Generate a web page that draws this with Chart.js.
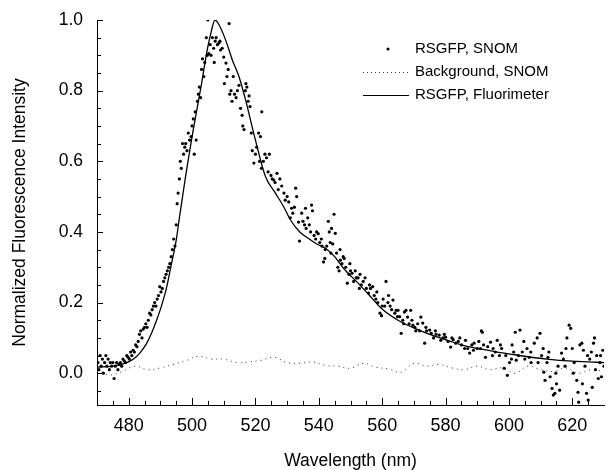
<!DOCTYPE html>
<html>
<head>
<meta charset="utf-8">
<script src="https://cdn.jsdelivr.net/npm/chart.js@4"></script>
<style>
  body { margin: 0; background: #fff; }
  canvas { display: block; }
</style>
</head>
<body>
<canvas id="spectrumChart" width="608" height="470"></canvas>
<script>
// RSGFP, Fluorimeter (solid line)
const fluoX = [470, 475, 479.4, 481.5, 483.5, 485.7, 487.3, 488.8, 490.5, 492, 493.5, 495, 496, 497, 498, 499, 500, 501, 502, 503, 504, 505, 506, 507.2, 508.3, 510.6, 512.7, 514.8, 516.9, 520, 523.2, 526.3, 529, 531.1, 534, 537, 539.5, 542.1, 545, 548, 552.4, 556, 559.7, 565, 570.3, 575, 580.7, 585, 590, 596.3, 600, 605, 612, 620, 627.7, 630];
const fluoY = [0.017, 0.02, 0.03, 0.04, 0.057, 0.085, 0.115, 0.15, 0.195, 0.244, 0.31, 0.377, 0.44, 0.50, 0.56, 0.615, 0.67, 0.72, 0.77, 0.82, 0.875, 0.925, 0.965, 1.0, 0.99, 0.943, 0.887, 0.84, 0.773, 0.66, 0.556, 0.51, 0.47, 0.433, 0.40, 0.38, 0.365, 0.354, 0.33, 0.295, 0.255, 0.22, 0.184, 0.15, 0.127, 0.11, 0.093, 0.08, 0.07, 0.06, 0.055, 0.048, 0.04, 0.034, 0.031, 0.03];

// Background, SNOM (dotted line)
const bgX = [470, 474, 478, 482, 486, 490, 494, 498, 502, 506, 510, 514, 518, 522, 526, 530, 534, 538, 542, 546, 550, 554, 558, 562, 566, 570, 574, 578, 582, 586, 590, 594, 598, 602, 606, 610, 614, 618, 622, 626, 630];
const bgY = [0.01, -0.005, 0.005, 0.02, 0.01, 0.015, 0.025, 0.035, 0.048, 0.04, 0.04, 0.03, 0.032, 0.037, 0.045, 0.03, 0.028, 0.032, 0.022, 0.02, 0.014, 0.028, 0.017, 0.012, 0.003, 0.028, 0.02, 0.025, 0.015, 0.01, 0.02, 0.01, 0.015, 0.0, 0.02, 0.01, 0.005, 0.015, 0.0, 0.01, 0.005];

// RSGFP, SNOM (dots)
const snomX = [470.3, 470.6, 471, 471.3, 471.7, 472, 472.4, 472.8, 473.1, 473.5, 473.9, 474.2, 474.6, 475, 475.4, 475.8, 476.2, 476.6, 477, 477.4, 477.8, 478.2, 478.6, 479, 479.4, 479.8, 480.2, 480.6, 481, 481.4, 481.8, 482.2, 482.6,
  483, 483.4, 483.8, 484.2, 484.6, 485, 485.4, 485.8, 486.2, 486.6, 487, 487.4, 487.8, 488.2, 488.6, 489, 489.4, 489.8, 490.2, 490.6, 491, 491.4, 491.8, 492.2, 492.6, 493, 493.4, 493.8, 494.2, 494.6, 495, 495.3, 495.6, 496, 496.3, 496.6, 497, 497.3, 497.7, 498, 498.4, 498.8, 499.2, 499.7, 500, 500.4, 500.7, 501, 501.3, 501.7, 502, 502.3, 502.7, 503, 503.3, 503.7, 504, 504.5, 504.8, 505, 505.3, 505.7, 506, 506.4, 506.8, 507, 507.3, 507.6, 508, 508.5, 508.8, 509, 509.5, 510, 510.2, 510.7, 511, 511.4, 511.7, 511.9, 512.3, 512.6, 513, 513.4, 513.9, 514.3, 514.8, 515.3, 515.8, 516, 516.4, 516.8, 517, 517.3, 517.7, 518, 518.3, 518.7, 519, 519.5, 520, 520.4, 521, 521.3, 521.6, 521.9, 522, 522.5, 523, 523.5, 524, 524.4, 524.9, 525.3, 525.8, 526.2, 526.8, 527.2, 527.7, 528.3, 529, 529.4, 530, 530.5, 531, 531.4, 531.8, 532.3, 532.7, 533, 533.6, 533.9, 534.6, 535, 535.5, 535.8, 536, 536.5, 537, 537.4, 537.7, 538, 538.5, 539, 539.3, 539.8, 540.3, 540.8, 541.5, 541.9, 542, 542.5, 543, 543.3, 543.6, 544, 544.4, 544.8, 545.2, 545.6, 546, 546.4, 546.8, 547.3, 547.7, 548, 548.5, 549, 549.5, 550, 550.5, 551, 551.5, 552, 552.4, 552.8, 553.4, 554, 554.6, 555, 555.7, 556.3, 557, 557.5, 558, 558.6, 559.3, 559.8, 560.3, 560.8, 561.2, 561.8, 562.5, 563, 563.4, 564, 564.4, 565, 565.5, 566, 566.5, 567, 567.5, 568, 568.5, 569, 569.7, 570.3, 570.6, 571.2, 572.2, 572.8, 573.4, 574, 575, 575.5, 576.2, 577, 578, 578.5, 579.2, 580, 580.8, 581.6, 582.4, 583.2, 584, 585, 586.3, 587, 587.6, 588.3, 589, 590, 591, 591.3, 591.6, 592.6, 593.3, 594.2, 595, 595.7, 596.3, 597, 597.7, 598.5, 599.5, 600.2, 601, 601.5, 602, 602.3, 603, 603.5, 604.2, 605, 605.7, 606.4, 607, 608, 608.9, 609.8, 610.3, 611, 611.4, 612, 612.6, 613, 613.6, 614, 614.5, 615, 615.5, 616, 616.6, 617.2, 618, 618.3, 619, 619.5, 620, 620.6, 621.4, 621.8, 622, 622.4, 623, 623.5, 624, 624.5, 625, 625.5, 626, 626.7, 627, 627.3, 627.7, 628.2, 628.7, 629.2, 629.6, 630,
  541, 543.8, 546.7, 549.8, 551.8, 553, 556, 558.3, 560, 562, 564.8, 566.8, 569.4, 571.8, 573.8, 576.8, 579.6, 582, 584.5, 586, 588.8, 590.5, 592, 594.8, 597.3, 599, 600.8, 604.7, 606.9, 609.2, 610.8, 612.3, 614.8, 617.7, 620.3, 623.2, 624.8, 626.3, 628.9];
const snomY = [0.03, 0.01, 0.05, 0.02, 0.04, 0.0, 0.03, 0.05, 0.02, 0.04, 0.01, 0.03, 0.02, 0.03, -0.015, 0.02, 0.03, 0.01, 0.025, 0.03, 0.02, 0.04, 0.035, 0.03, 0.05, 0.045, 0.04, 0.06, 0.05, 0.065, 0.06, 0.08, 0.075,
  0.09, 0.11, 0.12, 0.10, 0.125, 0.13, 0.14, 0.13, 0.15, 0.17, 0.165, 0.18, 0.19, 0.2, 0.19, 0.21, 0.22, 0.245, 0.23, 0.24, 0.26, 0.27, 0.28, 0.29, 0.3, 0.31, 0.33, 0.35, 0.38, 0.36, 0.42, 0.48, 0.51, 0.55, 0.6, 0.58, 0.65, 0.62, 0.64, 0.65, 0.63, 0.68, 0.66, 0.67, 0.70, 0.72, 0.62, 0.74, 0.66, 0.77, 0.79, 0.81, 0.78, 0.86, 0.89, 0.84, 0.88, 0.95, 0.90, 1.0, 0.905, 0.93, 0.90, 0.95, 0.92, 0.88, 0.94, 0.95, 0.93, 0.935, 0.94, 0.915, 0.92, 0.895, 0.82, 0.878, 0.84, 0.86, 0.99, 0.79, 0.80, 0.77, 0.84, 0.79, 0.78, 0.80, 0.815, 0.75, 0.73, 0.70, 0.69, 0.80, 0.82, 0.81, 0.77, 0.785, 0.755, 0.68, 0.63, 0.595, 0.62, 0.64, 0.68, 0.60, 0.67, 0.58, 0.74, 0.60, 0.62, 0.61, 0.57, 0.62, 0.56, 0.55, 0.547, 0.54, 0.566, 0.52, 0.55, 0.53, 0.51, 0.49, 0.50, 0.485, 0.44, 0.467, 0.453, 0.47, 0.524, 0.50, 0.428, 0.374, 0.453, 0.43, 0.42, 0.467, 0.41, 0.44, 0.42, 0.40, 0.476, 0.46, 0.39, 0.38, 0.40, 0.395, 0.37, 0.38, 0.315, 0.325, 0.35, 0.36, 0.43, 0.40, 0.37, 0.41, 0.366, 0.45, 0.396, 0.34, 0.30, 0.29, 0.32, 0.31, 0.33, 0.325, 0.30, 0.255, 0.28, 0.29, 0.283, 0.26, 0.29, 0.27, 0.27, 0.24, 0.25, 0.26, 0.27, 0.24, 0.227, 0.24, 0.245, 0.22, 0.21, 0.2, 0.17, 0.163, 0.21, 0.19, 0.26, 0.2, 0.19, 0.18, 0.207, 0.17, 0.178, 0.178, 0.16, 0.113, 0.15, 0.173, 0.178, 0.159, 0.14, 0.178, 0.136, 0.13, 0.12, 0.14, 0.159, 0.142, 0.085, 0.12, 0.122, 0.113, 0.1, 0.11, 0.108, 0.093, 0.1, 0.102, 0.09, 0.074, 0.095, 0.085, 0.09, 0.08, 0.093, 0.07, 0.057, 0.08, 0.085, 0.07, 0.07, 0.12, 0.116, 0.045, 0.075, 0.088, 0.07, 0.06, 0.093, 0.05, 0.07, 0.014, -0.006, 0.03, 0.08, 0.06, 0.116, 0.037, 0.05, 0.122, 0.06, 0.04, 0.07, 0.045, 0.03, 0.085, 0.1, 0.113, 0.05, 0.003, -0.02, 0.03, 0.06, -0.01, -0.043, -0.062, -0.057, -0.03, 0.02, -0.048, 0.057, 0.04, 0.07, 0.1, 0.136, 0.127, 0.07, 0.03, -0.02, -0.054, -0.082, 0.08, 0.085, 0.065, 0.02, -0.057, -0.076, 0.04, 0.06, 0.085, 0.1, 0.01, 0.05, -0.015, 0.03, -0.01, 0.065, 0.02,
  0.36, 0.34, 0.35, 0.31, 0.27, 0.28, 0.25, 0.23, 0.19, 0.22, 0.16, 0.14, 0.15, 0.12, 0.13, 0.12, 0.11, 0.1, 0.1, 0.07, 0.065, 0.09, 0.08, 0.05, 0.08, 0.05, 0.04, 0.09, 0.06, 0.03, 0.07, 0.045, 0.0, 0.02, 0.0, -0.03, 0.05, -0.04, 0.05];

// labelled ticks, and the small inward marks between them
const xTicks = [480, 500, 520, 540, 560, 580, 600, 620];
const yTicks = [0.0, 0.2, 0.4, 0.6, 0.8, 1.0];
const xMarks = [475, 480, 485, 490, 495, 500, 505, 510, 515, 520, 525, 530, 535, 540, 545, 550, 555, 560, 565, 570, 575, 580, 585, 590, 595, 600, 605, 610, 615, 620, 625];
const yMarks = [-0.05, 0.0, 0.05, 0.1, 0.15, 0.2, 0.25, 0.3, 0.35, 0.4, 0.45, 0.5, 0.55, 0.6, 0.65, 0.7, 0.75, 0.8, 0.85, 0.9, 0.95, 1.0];
const legendLabels = ["RSGFP, SNOM", "Background, SNOM", "RSGFP, Fluorimeter"];

const FONT = "'Liberation Sans', Arial, sans-serif";

function toPoints(xs, ys) {
    return xs.map((x, i) => ({ x: x, y: ys[i] }));
}

// tick marks pointing into the plot
const inwardTicks = {
    id: "inwardTicks",
    afterDraw(chart) {
        const c = chart.ctx;
        const sx = chart.scales.x, sy = chart.scales.y;
        const a = chart.chartArea;
        c.save();
        c.fillStyle = "#000";
        xMarks.forEach(v => {
            const px = Math.round(sx.getPixelForValue(v));
            const len = xTicks.includes(v) ? 7 : 4;
            c.fillRect(px, Math.round(a.bottom) - len, 1, len);
        });
        yMarks.forEach(v => {
            const py = Math.round(sy.getPixelForValue(v));
            const len = yTicks.some(t => Math.abs(t - v) < 1e-6) ? 6 : 4;
            c.fillRect(Math.round(a.left), py, len, 1);
        });
        c.restore();
    }
};

// legend in the upper right, as in the figure
const plotLegend = {
    id: "plotLegend",
    afterDraw(chart) {
        const c = chart.ctx;
        c.save();
        c.font = "15px " + FONT;
        c.fillStyle = "#000";
        c.textBaseline = "middle";
        const textX = 415;
        const rows = [49, 72, 95];

        c.beginPath();
        c.arc(388, rows[0], 1.5, 0, Math.PI * 2);
        c.fill();

        c.strokeStyle = "#333";
        c.lineWidth = 1;
        c.setLineDash([1, 3]);
        c.beginPath();
        c.moveTo(363, rows[1] + 0.5);
        c.lineTo(408, rows[1] + 0.5);
        c.stroke();

        c.setLineDash([]);
        c.strokeStyle = "#000";
        c.lineWidth = 1.2;
        c.beginPath();
        c.moveTo(363, rows[2] + 0.5);
        c.lineTo(409, rows[2] + 0.5);
        c.stroke();

        legendLabels.forEach((label, i) => c.fillText(label, textX, rows[i]));
        c.restore();
    }
};

const ctx = document.getElementById("spectrumChart").getContext("2d");
new Chart(ctx, {
    type: "scatter",
    data: {
        datasets: [
            {
                label: legendLabels[0],
                data: toPoints(snomX, snomY),
                showLine: false,
                pointRadius: 1.6,
                pointBorderWidth: 0,
                pointBackgroundColor: "#000"
            },
            {
                label: legendLabels[1],
                data: toPoints(bgX, bgY),
                showLine: true,
                pointRadius: 0,
                borderColor: "#333",
                borderWidth: 1,
                borderDash: [1, 4],
                tension: 0.4
            },
            {
                label: legendLabels[2],
                data: toPoints(fluoX, fluoY),
                showLine: true,
                pointRadius: 0,
                borderColor: "#000",
                borderWidth: 1.3,
                cubicInterpolationMode: "monotone"
            }
        ]
    },
    options: {
        responsive: false,
        animation: false,
        layout: { padding: { top: 20, right: 0, left: 0, bottom: 0 } },
        plugins: {
            legend: { display: false },
            tooltip: { enabled: false }
        },
        scales: {
            x: {
                type: "linear",
                min: 470,
                max: 630,
                afterBuildTicks: scale => { scale.ticks = xTicks.map(v => ({ value: v })); },
                afterFit: scale => {
                    scale.height = 65;
                    scale.paddingLeft = 0;
                    scale.paddingRight = 0;
                },
                grid: { drawOnChartArea: false, drawTicks: false },
                border: { display: true, color: "#000", width: 1 },
                ticks: {
                    color: "#000",
                    padding: 10,
                    maxRotation: 0,
                    font: { family: FONT, size: 18 }
                },
                title: {
                    display: true,
                    text: "Wavelength (nm)",
                    color: "#000",
                    padding: { top: 0, bottom: 0 },
                    font: { family: FONT, size: 17.5, lineHeight: 1.0 }
                }
            },
            y: {
                type: "linear",
                min: -0.09,
                max: 1.0,
                afterBuildTicks: scale => { scale.ticks = yTicks.map(v => ({ value: v })); },
                afterFit: scale => {
                    scale.width = 97;
                    scale.paddingTop = 0;
                    scale.paddingBottom = 0;
                },
                grid: { drawOnChartArea: false, drawTicks: false },
                border: { display: true, color: "#000", width: 1 },
                ticks: {
                    color: "#000",
                    padding: 14,
                    font: { family: FONT, size: 17.5 },
                    callback: v => v.toFixed(1)
                },
                title: {
                    display: true,
                    text: "Normalized Fluorescence Intensity",
                    color: "#000",
                    padding: { top: 10, bottom: 0 },
                    font: { family: FONT, size: 17.5 }
                }
            }
        }
    },
    plugins: [inwardTicks, plotLegend]
});
</script>
</body>
</html>
